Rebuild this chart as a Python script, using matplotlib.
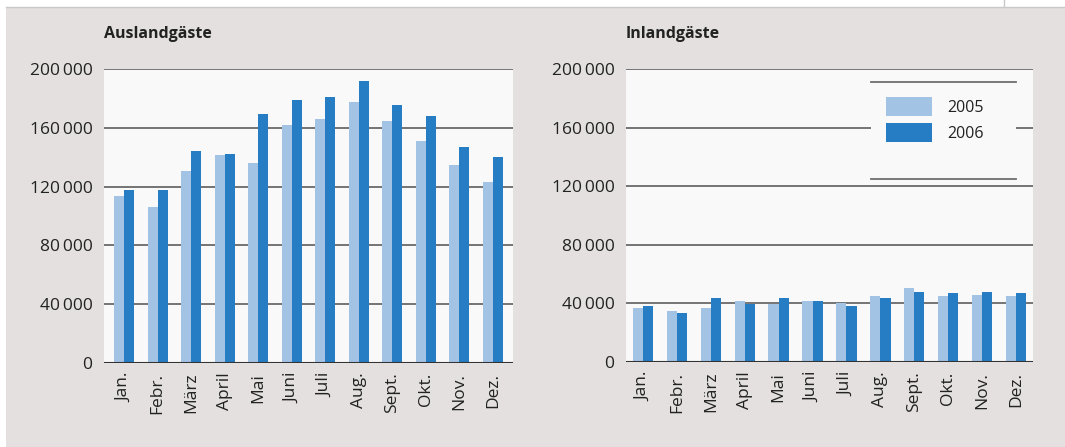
import matplotlib.pyplot as plt
import matplotlib.patches as mpatches
import numpy as np

plt.rcParams['font.family'] = ['Open Sans', 'DejaVu Sans']

months = ['Jan.', 'Febr.', 'März', 'April', 'Mai', 'Juni', 'Juli',
          'Aug.', 'Sept.', 'Okt.', 'Nov.', 'Dez.']
years = ['2005', '2006']

# Auslandgaeste
ausland_2005 = [113400, 105900, 130500, 141400, 135900, 161800,
                165900, 177500, 164500, 150900, 134500, 123000]
ausland_2006 = [117500, 117500, 144100, 142000, 169300, 178900,
                180900, 191800, 175500, 168000, 146800, 140000]
# Inlandgaeste
inland_2005 = [36700, 34600, 36700, 41500, 39400, 41500,
               40100, 44900, 50300, 44900, 45600, 44900]
inland_2006 = [38000, 33300, 43500, 39400, 43500, 41500,
               38000, 43500, 47600, 46900, 47600, 46900]

yticks = [0, 40000, 80000, 120000, 160000, 200000]

c_light = '#a3c3e5'
c_dark = '#277dc3'
bg = '#e3e0df'
plotbg = '#f9f9f9'
txt = '#222222'
fs = 12.5

W, H = 1065, 447
fig = plt.figure(figsize=(W / 100, H / 100), dpi=100)
fig.patch.set_facecolor('white')
# grey panel background
fig.patches.append(mpatches.Rectangle((6 / W, 0), 1 - 6 / W, 1 - 7 / H,
                                      transform=fig.transFigure, facecolor=bg,
                                      edgecolor='none', zorder=-10))
fig.lines.append(plt.Line2D([6 / W, 1], [1 - 7 / H, 1 - 7 / H],
                            transform=fig.transFigure, color='#c8c8c8', lw=1))
fig.lines.append(plt.Line2D([1004 / W, 1004 / W], [1 - 7 / H, 1],
                            transform=fig.transFigure, color='#c8c8c8', lw=1))


def make_ax(left, right, top, bottom):
    return fig.add_axes([left / W, 1 - bottom / H, (right - left) / W, (bottom - top) / H])


def fmt(v):
    return f'{v:,}'.replace(',', '\u2009')


def draw(ax, d05, d06, title, xl):
    x = np.arange(len(months))
    w = 0.3
    ax.set_facecolor(plotbg)
    ax.bar(x - w / 2, d05, w, color=c_light, zorder=3, label=years[0])
    ax.bar(x + w / 2, d06, w, color=c_dark, zorder=3, label=years[1])
    ax.set_xlim(*xl)
    ax.set_ylim(0, 200000)
    ax.set_yticks(yticks)
    ax.set_yticklabels([fmt(v) for v in yticks])
    for v in yticks[1:]:
        ax.axhline(v, color='#5e5e5e', lw=1.2, zorder=2)
    ax.axhline(0, color='#333333', lw=1.5, zorder=4)
    ax.set_xticks(x)
    ax.set_xticklabels(months, rotation=90)
    ax.tick_params(axis='both', length=0, labelsize=fs, colors=txt)
    ax.tick_params(axis='y', pad=8.3)
    ax.tick_params(axis='x', pad=7)
    for s in ax.spines.values():
        s.set_visible(False)
    ax.text(0.0, 1.0 + 35 / 293, title, transform=ax.transAxes, fontsize=11.5,
            fontweight='bold', color=txt, ha='left', va='center')


ax1 = make_ax(104, 513, 69, 363)
draw(ax1, ausland_2005, ausland_2006, 'Auslandgäste', (-0.6, 11.6))

ax2 = make_ax(626, 1033, 69, 362)
draw(ax2, inland_2005, inland_2006, 'Inlandgäste', (-0.5, 11.5))

# legend box
bx0, bx1 = 0.602, 0.958
by0, by1 = 0.625, 0.957
ax2.add_patch(mpatches.Rectangle((bx0, by0), bx1 - bx0, by1 - by0, transform=ax2.transAxes,
                                 facecolor=plotbg, edgecolor='none', zorder=5))
ax2.plot([bx0, bx1], [by1, by1], transform=ax2.transAxes, color='#6e6e6e', lw=1.3, zorder=6)
ax2.plot([bx0, bx1], [by0, by0], transform=ax2.transAxes, color='#6e6e6e', lw=1.3, zorder=6)
leg = ax2.legend(loc='upper left', bbox_to_anchor=(0.639, 0.904),
                 frameon=False, fontsize=11.5, handlelength=2.88, handleheight=1.44,
                 handletextpad=0.94, labelspacing=0.44, borderaxespad=0, borderpad=0)
leg.set_zorder(7)
for t in leg.get_texts():
    t.set_color(txt)

fig.savefig('out.png', dpi=100, facecolor=fig.get_facecolor())
